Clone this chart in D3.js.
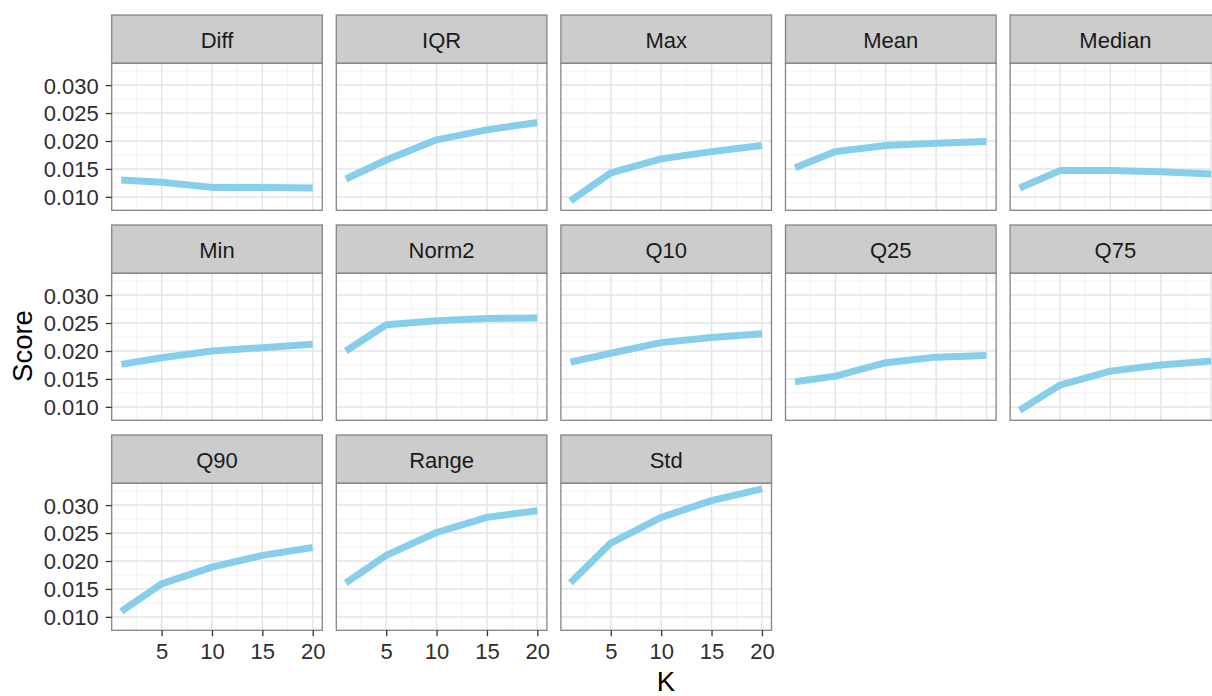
<!DOCTYPE html>
<html>
<head>
<meta charset="utf-8">
<script src="https://cdn.jsdelivr.net/npm/d3@7"></script>
<style>
  html, body { margin: 0; padding: 0; background: #fff; overflow: hidden; }
  svg { display: block; font-family: "Liberation Sans", Arial, sans-serif; }
</style>
</head>
<body>
<svg id="chart" width="1212" height="696"></svg>
<script>
// Facet labels, in panel order (5 columns, wrapping)
const metrics = ["Diff", "IQR", "Max", "Mean", "Median", "Min", "Norm2",
                 "Q10", "Q25", "Q75", "Q90", "Range", "Std"];

// Number of neighbours K
const kValues = [1, 5, 10, 15, 20];

// Score per metric at each K
const scoreDiff   = [0.0130, 0.0126, 0.0117, 0.0117, 0.0116];
const scoreIQR    = [0.0132, 0.0166, 0.0202, 0.0220, 0.0233];
const scoreMax    = [0.0093, 0.0143, 0.0168, 0.0181, 0.0192];
const scoreMean   = [0.0152, 0.0181, 0.0192, 0.0196, 0.0199];
const scoreMedian = [0.0116, 0.0147, 0.0147, 0.0145, 0.0141];
const scoreMin    = [0.0176, 0.0188, 0.0200, 0.0206, 0.0212];
const scoreNorm2  = [0.0200, 0.0247, 0.0254, 0.0258, 0.0259];
const scoreQ10    = [0.0180, 0.0196, 0.0215, 0.0224, 0.0231];
const scoreQ25    = [0.0145, 0.0155, 0.0179, 0.0189, 0.0192];
const scoreQ75    = [0.0094, 0.0139, 0.0164, 0.0175, 0.0182];
const scoreQ90    = [0.0110, 0.0159, 0.0189, 0.0210, 0.0224];
const scoreRange  = [0.0161, 0.0210, 0.0251, 0.0278, 0.0290];
const scoreStd    = [0.0161, 0.0232, 0.0278, 0.0308, 0.0329];

// Axis ticks
const yTicks = [0.010, 0.015, 0.020, 0.025, 0.030];
const yMinorTicks = [0.0125, 0.0175, 0.0225, 0.0275, 0.0325];
const xTicks = [5, 10, 15, 20];
const xMinorTicks = [2.5, 7.5, 12.5, 17.5];

const seriesByMetric = {
  Diff: scoreDiff, IQR: scoreIQR, Max: scoreMax, Mean: scoreMean,
  Median: scoreMedian, Min: scoreMin, Norm2: scoreNorm2, Q10: scoreQ10,
  Q25: scoreQ25, Q75: scoreQ75, Q90: scoreQ90, Range: scoreRange, Std: scoreStd
};

// Layout
const nCols = 5;
const colLeft0 = 111.7, colPitch = 224.6, panelW = 210.6;
const rowTop0 = 15, rowPitch = 210, stripH = 48.3, plotH = 147;

const x = d3.scaleLinear().domain([0.05, 20.95]).range([0, panelW]);
const y = d3.scaleLinear().domain([0.0076, 0.0339]).range([plotH, 0]);

const svg = d3.select("#chart");
const nRows = Math.ceil(metrics.length / nCols);

const line = d3.line()
  .x(d => x(d[0]))
  .y(d => y(d[1]));

metrics.forEach((name, i) => {
  const col = i % nCols, row = Math.floor(i / nCols);
  const left = colLeft0 + col * colPitch;
  const top = rowTop0 + row * rowPitch;

  // Strip
  const strip = svg.append("g").attr("transform", `translate(${left},${top})`);
  strip.append("rect")
    .attr("width", panelW).attr("height", stripH)
    .attr("fill", "#cccccc").attr("stroke", "#858585").attr("stroke-width", 1.3);
  strip.append("text")
    .attr("x", panelW / 2).attr("y", stripH / 2 + 8.5)
    .attr("text-anchor", "middle")
    .attr("font-size", 22).attr("fill", "#1a1a1a")
    .text(name);

  // Panel
  const g = svg.append("g").attr("transform", `translate(${left},${top + stripH})`);
  g.append("rect").attr("width", panelW).attr("height", plotH).attr("fill", "#fff");

  const grid = g.append("g");
  grid.selectAll(".ymin").data(yMinorTicks).join("line")
    .attr("x1", 0).attr("x2", panelW)
    .attr("y1", d => y(d)).attr("y2", d => y(d))
    .attr("stroke", "#f2f2f2").attr("stroke-width", 1);
  grid.selectAll(".xmin").data(xMinorTicks).join("line")
    .attr("y1", 0).attr("y2", plotH)
    .attr("x1", d => x(d)).attr("x2", d => x(d))
    .attr("stroke", "#f2f2f2").attr("stroke-width", 1);
  grid.selectAll(".ymaj").data(yTicks).join("line")
    .attr("x1", 0).attr("x2", panelW)
    .attr("y1", d => y(d)).attr("y2", d => y(d))
    .attr("stroke", "#e5e5e5").attr("stroke-width", 1.5);
  grid.selectAll(".xmaj").data(xTicks).join("line")
    .attr("y1", 0).attr("y2", plotH)
    .attr("x1", d => x(d)).attr("x2", d => x(d))
    .attr("stroke", "#e5e5e5").attr("stroke-width", 1.5);

  const pts = kValues.map((k, j) => [k, seriesByMetric[name][j]]);
  g.append("path")
    .datum(pts)
    .attr("d", line)
    .attr("fill", "none")
    .attr("stroke", "#87ceeb")
    .attr("stroke-width", 7)
    .attr("stroke-linecap", "butt")
    .attr("stroke-linejoin", "round");

  g.append("rect")
    .attr("width", panelW).attr("height", plotH)
    .attr("fill", "none").attr("stroke", "#858585").attr("stroke-width", 1.3);

  // Y axis on the first column
  if (col === 0) {
    const ya = g.append("g").call(
      d3.axisLeft(y).tickValues(yTicks).tickSize(6).tickPadding(7)
        .tickFormat(d3.format(".3f"))
    );
    ya.select(".domain").remove();
    ya.selectAll(".tick line").attr("stroke", "#333").attr("stroke-width", 1.3);
    ya.selectAll(".tick text")
      .attr("font-size", 22).attr("fill", "#2e2e2e")
      .attr("font-family", "Liberation Sans, Arial, sans-serif")
      .attr("dy", "0.36em");
  }

  // X axis under the last panel of each column
  const isBottom = (i + nCols) >= metrics.length;
  if (isBottom && row === nRows - 1) {
    const xa = g.append("g").attr("transform", `translate(0,${plotH})`).call(
      d3.axisBottom(x).tickValues(xTicks).tickSize(6).tickPadding(6)
    );
    xa.select(".domain").remove();
    xa.selectAll(".tick line").attr("stroke", "#333").attr("stroke-width", 1.3);
    xa.selectAll(".tick text")
      .attr("font-size", 22).attr("fill", "#2e2e2e")
      .attr("font-family", "Liberation Sans, Arial, sans-serif")
      .attr("dy", "0.75em");
  }
});

// Axis titles
svg.append("text")
  .attr("transform", "translate(32,346) rotate(-90)")
  .attr("text-anchor", "middle")
  .attr("font-size", 27.5).attr("fill", "#000")
  .text("Score");

svg.append("text")
  .attr("x", 666).attr("y", 691)
  .attr("text-anchor", "middle")
  .attr("font-size", 27.5).attr("fill", "#000")
  .text("K");
</script>
</body>
</html>
